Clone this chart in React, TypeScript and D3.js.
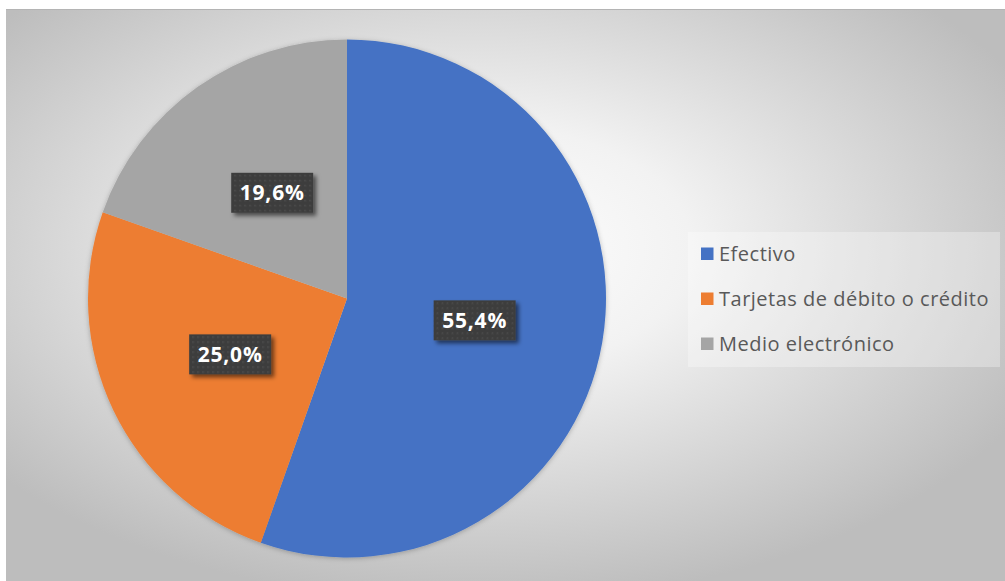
import React from "react";
import * as d3 from "d3";

const categories = ["Efectivo", "Tarjetas de débito o crédito", "Medio electrónico"];
const values = [55.4, 25.0, 19.6];
const labels = ["55,4%", "25,0%", "19,6%"];
const colors = ["#4472C4", "#ED7D31", "#A5A5A5"];

const W = 1005;
const H = 581;
const cx = 347;
const cy = 298.5;
const R = 259;

export default function App() {
  const pie = d3.pie<number>().sort(null).value((d) => d);
  const arcs = pie(values);
  const arc = d3.arc<d3.PieArcDatum<number>>().innerRadius(0).outerRadius(R);

  const legendX = 688;
  const legendY = 232;
  const legendRowY = d3.scaleLinear().domain([0, 2]).range([254, 344]);

  return (
    <svg
      width={W}
      height={H}
      style={{ position: "absolute", left: 0, top: 0, display: "block" }}
      fontFamily="'Open Sans', Lato, sans-serif"
    >
      <defs>
        <radialGradient id="bg" cx="0.47" cy="0.42" r="0.62" gradientUnits="objectBoundingBox">
          <stop offset="0" stopColor="#ffffff" />
          <stop offset="0.35" stopColor="#f2f2f2" />
          <stop offset="1" stopColor="#bdbdbd" />
        </radialGradient>
        <filter id="pieShadow" x="-10%" y="-10%" width="120%" height="120%">
          <feDropShadow dx="0" dy="1" stdDeviation="2.5" floodColor="#000" floodOpacity="0.25" />
        </filter>
        <filter id="boxShadow" x="-20%" y="-20%" width="150%" height="160%">
          <feDropShadow dx="3" dy="3" stdDeviation="2" floodColor="#000" floodOpacity="0.55" />
        </filter>
        <pattern id="dots" width="5" height="5" patternUnits="userSpaceOnUse">
          <rect width="5" height="5" fill="#3e3e3e" />
          <rect x="2" y="2" width="1.5" height="1.5" fill="#4d4d4d" />
        </pattern>
      </defs>

      <rect x={6} y={9} width={W - 6} height={H - 9} fill="url(#bg)" />
      <line x1={6} x2={W} y1={9.5} y2={9.5} stroke="#b4b4b4" strokeWidth={1} />

      <g transform={`translate(${cx},${cy})`} filter="url(#pieShadow)">
        {arcs.map((a, i) => (
          <path key={i} d={arc(a) || ""} fill={colors[i]} />
        ))}
      </g>

      <g transform={`translate(${cx},${cy})`}>
        {arcs.map((a, i) => {
          const [x, y] = arc.centroid(a);
          const bw = 82;
          const bh = 40;
          return (
            <g key={i} transform={`translate(${x},${y})`}>
              <rect
                x={-bw / 2}
                y={-bh / 2}
                width={bw}
                height={bh}
                fill="url(#dots)"
                filter="url(#boxShadow)"
              />
              <text
                textAnchor="middle"
                dy="0.36em"
                fill="#ffffff"
                fontWeight="bold"
                fontSize={21}
                letterSpacing={0.8}
              >
                {labels[i]}
              </text>
            </g>
          );
        })}
      </g>

      <rect x={legendX} y={legendY} width={312} height={135} fill="#ffffff" fillOpacity={0.3} />
      {categories.map((c, i) => (
        <g key={c} transform={`translate(${legendX},${legendRowY(i)})`}>
          <rect x={13} y={-6.5} width={12.5} height={12.5} fill={colors[i]} />
          <text x={31} dy="0.35em" fontSize={20} letterSpacing={0.5} fill="#595959">
            {c}
          </text>
        </g>
      ))}
    </svg>
  );
}
